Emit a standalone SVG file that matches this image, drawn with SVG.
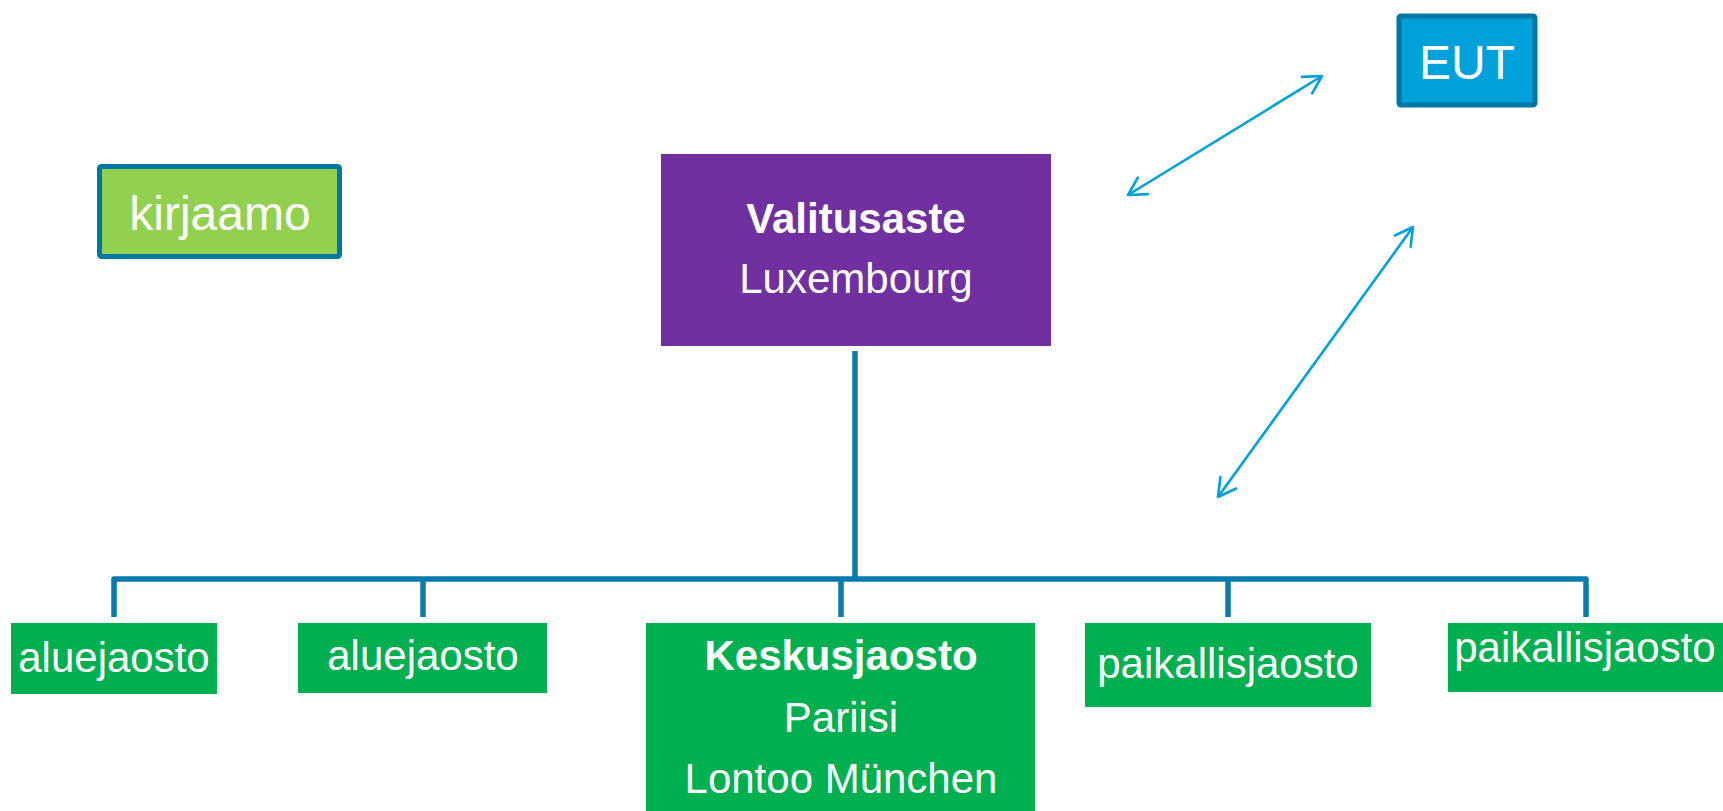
<svg xmlns="http://www.w3.org/2000/svg" width="1723" height="811" viewBox="0 0 1723 811">
<defs>
<style>
.t{font-family:"Liberation Sans",Arial,sans-serif;fill:#fff;text-anchor:middle}
.b{font-weight:bold}
.g{fill:#00B050}
.conn{fill:none;stroke:#0A7BAD;stroke-width:5.5;stroke-linejoin:round}
.arr{fill:none;stroke:#00A0DC;stroke-width:2.6;marker-start:url(#ah);marker-end:url(#ah)}
</style>
<marker id="ah" markerUnits="userSpaceOnUse" viewBox="-20 -12 22 24" refX="0" refY="0" markerWidth="22" markerHeight="24" orient="auto-start-reverse" overflow="visible">
<path d="M-17.5,-9.7 L0,0 L-17.5,9.7" fill="none" stroke="#00A0DC" stroke-width="2.6" stroke-linecap="round" stroke-linejoin="round"/>
</marker>
</defs>
<rect width="1723" height="811" fill="#fff"/>
<g id="connectors">
<path class="conn" d="M855,351 V579"/>
<path class="conn" d="M114,617 V579 H1586 V617"/>
<path class="conn" d="M423,579 V617"/>
<path class="conn" d="M841,579 V617"/>
<path class="conn" d="M1228,579 V617"/>
<path class="arr" d="M1128,195 L1322,76"/>
<path class="arr" d="M1218,497 L1413,227"/>
</g>
<g id="eut">
<rect x="1399" y="16" width="136" height="89" rx="2" fill="#00A0DA" stroke="#0076A3" stroke-width="5"/>
<text class="t" x="1467" y="79" font-size="48">EUT</text>
</g>
<g id="kirjaamo">
<rect x="99.5" y="166.5" width="240" height="90" rx="2" fill="#92D050" stroke="#0076A3" stroke-width="5"/>
<text class="t" x="220" y="230" font-size="48">kirjaamo</text>
</g>
<g id="valitusaste">
<rect x="661" y="154" width="390" height="192" fill="#7030A0"/>
<text class="t b" x="856" y="233" font-size="42">Valitusaste</text>
<text class="t" x="856" y="293" font-size="42">Luxembourg</text>
</g>
<g id="aluejaosto1">
<rect class="g" x="11" y="623" width="206" height="71"/>
<text class="t" x="114" y="672" font-size="42">aluejaosto</text>
</g>
<g id="aluejaosto2">
<rect class="g" x="298" y="623" width="249" height="70"/>
<text class="t" x="423" y="670" font-size="42">aluejaosto</text>
</g>
<g id="keskusjaosto">
<rect class="g" x="646" y="623" width="389" height="190"/>
<text class="t b" x="841" y="670" font-size="42">Keskusjaosto</text>
<text class="t" x="841" y="732" font-size="42">Pariisi</text>
<text class="t" x="841" y="793" font-size="42">Lontoo München</text>
</g>
<g id="paikallisjaosto1">
<rect class="g" x="1085" y="623" width="286" height="84"/>
<text class="t" x="1228" y="678" font-size="42">paikallisjaosto</text>
</g>
<g id="paikallisjaosto2">
<rect class="g" x="1448" y="623" width="275" height="69"/>
<text class="t" x="1585" y="662" font-size="42">paikallisjaosto</text>
</g>
</svg>
